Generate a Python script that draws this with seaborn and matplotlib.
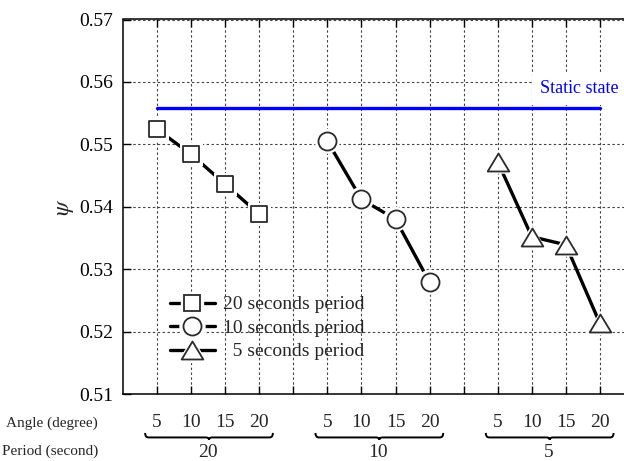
import numpy as np
import pandas as pd
import seaborn as sns
import matplotlib
matplotlib.use("Agg")
import matplotlib.pyplot as plt
from matplotlib.lines import Line2D
from matplotlib.legend_handler import HandlerTuple
from matplotlib.path import Path
from matplotlib.patches import PathPatch
import matplotlib.transforms as mtransforms

# ---------------- data ----------------
angles = [5, 10, 15, 20]                 # degree
periods = [20, 10, 5]                    # second
psi_20 = [0.5524, 0.5484, 0.5436, 0.5388]
psi_10 = [0.5505, 0.5412, 0.5380, 0.5279]
psi_5 = [0.5472, 0.5352, 0.5339, 0.5213]
static_psi = 0.5559
series_labels = ["20 seconds period", "10 seconds period", "  5 seconds period"]
y_ticks = [0.51, 0.52, 0.53, 0.54, 0.55, 0.56, 0.57]

# ---------------- style ----------------
sns.set_theme(style="ticks")
plt.rcParams["font.family"] = ["Liberation Serif", "DejaVu Serif"]
plt.rcParams["mathtext.fontset"] = "stix"

fig = plt.figure(figsize=(6.24, 4.61), dpi=100)
ax = fig.add_axes([123 / 624, 67 / 461, 511 / 624, 374.5 / 461])

rows = []
for gi, (p, vals) in enumerate(zip(periods, [psi_20, psi_10, psi_5])):
    for ai, (a, v) in enumerate(zip(angles, vals)):
        rows.append({"period": p, "angle": a, "pos": gi * (len(angles) + 1) + ai, "psi": v, "group": gi})
df = pd.DataFrame(rows)

tri = Path([(0, 0.83), (-1, -0.83), (1, -0.83), (0, 0.83)],
           [Path.MOVETO, Path.LINETO, Path.LINETO, Path.CLOSEPOLY])
markers = ["s", "o", tri]
msizes = [11.5, 13.0, 15.6]
edge_col = "#2a2a2a"
line_lw = 2.4

# grid
all_pos = np.arange(0, len(periods) * (len(angles) + 1) - 1)
ax.set_xlim(-1, len(periods) * (len(angles) + 1) - 1)
ax.set_ylim(y_ticks[0], y_ticks[-1])
ax.set_xticks(all_pos)
ax.set_xticklabels([])
ax.set_yticks(y_ticks)
ax.set_yticklabels([f"{t:.2f}" for t in y_ticks])
ax.grid(True, linestyle=(0, (2.2, 2.2)), color="#444444", lw=0.8, zorder=0)
ax.set_axisbelow(True)

for s in ["left", "top", "bottom"]:
    ax.spines[s].set_visible(True)
    ax.spines[s].set_color("black")
    ax.spines[s].set_linewidth(1.1)
ax.spines["right"].set_visible(False)
ax.tick_params(axis="both", direction="in", length=5.5, width=1.0, color="black",
               labelsize=14, pad=7, top=True, bottom=True, left=True, right=False)
ax.tick_params(axis="y", labelcolor="black")

# static line
pos_min, pos_max = df["pos"].min(), df["pos"].max()
static_df = pd.DataFrame({"pos": [pos_min, pos_max], "psi": [static_psi, static_psi]})
sns.lineplot(data=static_df, x="pos", y="psi", color="#0000ff", lw=2.4, ax=ax, zorder=3)
ax.text(11.24, 0.55896, "Static state", color="#0000ff", fontsize=13, ha="left", va="center",
        zorder=2.5, bbox=dict(facecolor="white", edgecolor="none", pad=6))

handles = []
for gi in range(len(periods)):
    g = df[df["group"] == gi]
    sns.lineplot(data=g, x="pos", y="psi", color="black", lw=line_lw, ax=ax, zorder=4)
    m = markers[gi]
    ms = msizes[gi]
    sns.scatterplot(data=g, x="pos", y="psi", marker=m, s=(ms + 5) ** 2, color="white",
                    edgecolor="none", linewidth=0, ax=ax, zorder=5)
    sns.scatterplot(data=g, x="pos", y="psi", marker=m, s=ms ** 2, facecolor="white",
                    edgecolor=edge_col, linewidth=1.3, ax=ax, zorder=6)
    h_line = Line2D([], [], color="black", lw=line_lw)
    h_halo = Line2D([], [], marker=m, ms=ms + 5, mfc="white", mec="white", ls="none")
    h_mark = Line2D([], [], marker=m, ms=ms, mfc="white", mec=edge_col, mew=1.3, ls="none")
    handles.append((h_line, h_halo, h_mark))

ax.set_xlabel("")
ax.set_ylabel(r"$\psi$", fontsize=17, labelpad=2)

leg = ax.legend(handles, series_labels, handler_map={tuple: HandlerTuple(ndivide=1)},
                loc="center left", bbox_to_anchor=(0.092, 0.176), frameon=False,
                fontsize=14, handlelength=2.3, handletextpad=0.45, labelspacing=0.3,
                borderpad=0, borderaxespad=0, numpoints=1)
leg.set_zorder(7)

# bottom category labels
trans = mtransforms.blended_transform_factory(ax.transData, ax.transAxes)
y_ang = -0.0774
y_per = -0.156
for gi, p in enumerate(periods):
    base = gi * (len(angles) + 1)
    for ai, a in enumerate(angles):
        ax.text(base + ai, y_ang, str(a), transform=trans, ha="center", va="center",
                fontsize=14, clip_on=False)
    ax.text(base + (len(angles) - 1) / 2, y_per, str(p), transform=trans, ha="center",
            va="center", fontsize=14, clip_on=False)
    # brace
    x0, x1 = base - 0.35, base + len(angles) - 1 + 0.4
    xm = (x0 + x1) / 2
    yb, yu, yt = -0.116, -0.104, -0.122
    d = 0.1
    verts = [(x0, yu), (x0, yb), (x0 + d, yb), (xm - d, yb), (xm, yb), (xm, yt),
             (xm, yb), (xm + d, yb), (x1 - d, yb), (x1, yb), (x1, yu)]
    codes = [Path.MOVETO, Path.CURVE3, Path.CURVE3, Path.LINETO, Path.CURVE3, Path.CURVE3,
             Path.CURVE3, Path.CURVE3, Path.LINETO, Path.CURVE3, Path.CURVE3]
    ax.add_patch(PathPatch(Path(verts, codes), transform=trans, fill=False, lw=1.4,
                           edgecolor="black", clip_on=False))

ax.text(-0.0489, y_ang, "Angle (degree)", transform=ax.transAxes, ha="right", va="center",
        fontsize=11, clip_on=False)
ax.text(-0.0489, y_per + 0.004, "Period (second)", transform=ax.transAxes, ha="right", va="center",
        fontsize=11, clip_on=False)

fig.savefig("out.png", dpi=100)
